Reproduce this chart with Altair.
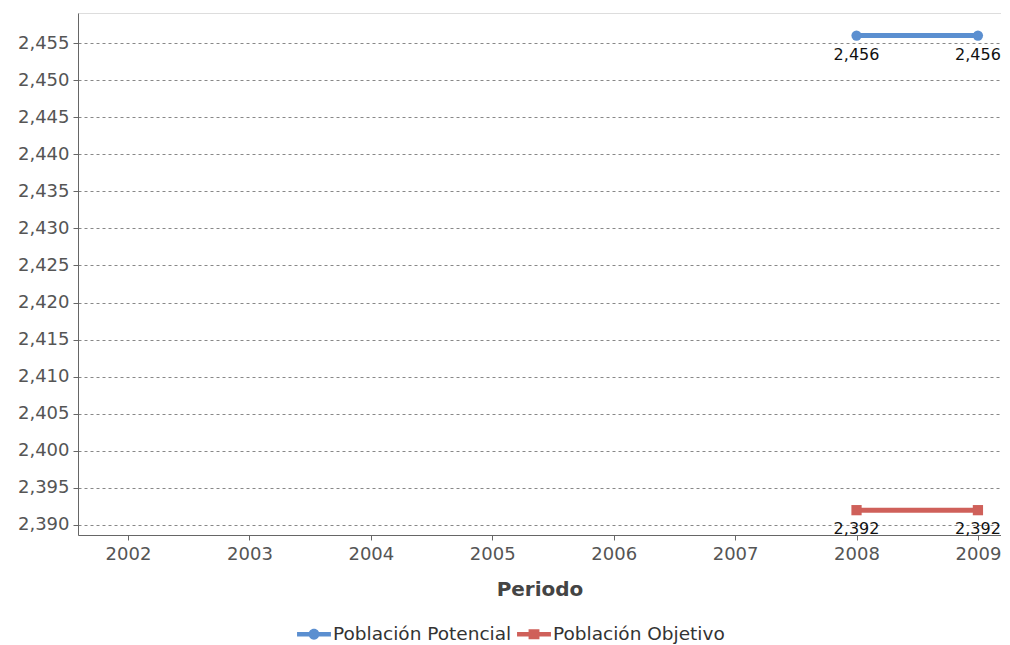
import altair as alt
import pandas as pd

years = [2008, 2009]
potencial = [2456, 2456]
objetivo = [2392, 2392]
series_names = ["Población Potencial", "Población Objetivo"]
colors = ["#5b8fd0", "#cf605a"]
x_ticks = [2002, 2003, 2004, 2005, 2006, 2007, 2008, 2009]
y_ticks = list(range(2390, 2456, 5))

rows = []
for y, v in zip(years, potencial):
    rows.append({"Periodo": y, "valor": v, "serie": series_names[0]})
for y, v in zip(years, objetivo):
    rows.append({"Periodo": y, "valor": v, "serie": series_names[1]})
df = pd.DataFrame(rows)

FONT = "DejaVu Sans"
xscale = alt.Scale(domain=[2001.588, 2009.19], nice=False, zero=False)
yscale = alt.Scale(domain=[2388.65, 2459.05], nice=False, zero=False)
cscale = alt.Scale(domain=series_names, range=colors)

x = alt.X("Periodo:Q", scale=xscale,
          axis=alt.Axis(title="Periodo", values=x_ticks,
                        format="d", grid=False, labelFontSize=18, labelColor="#555",
                        titleFontSize=20, titleFontWeight="bold", titleColor="#444",
                        titlePadding=16, labelPadding=5, tickColor="#666", domainColor="#666",
                        tickSize=5, labelFont=FONT, titleFont=FONT))
y = alt.Y("valor:Q", scale=yscale,
          axis=alt.Axis(title=None, values=y_ticks, format=",d",
                        gridDash=[3, 3], gridColor="#888", gridWidth=1,
                        labelFontSize=18, labelColor="#555", tickColor="#666", tickSize=5,
                        domainColor="#666", labelFont=FONT, labelPadding=4))

circle_path = ("M-1,-0.13H-0.25V0.13H-1Z M0.25,-0.13H1V0.13H0.25Z "
               "M-0.32,0 A0.32,0.32 0 1,1 0.32,0 A0.32,0.32 0 1,1 -0.32,0Z")
square_path = "M-1,-0.13H-0.3V0.13H-1Z M0.3,-0.13H1V0.13H0.3Z M-0.32,-0.3H0.32V0.3H-0.32Z"
shape_expr = "datum.value == '%s' ? '%s' : '%s'" % (series_names[0], circle_path, square_path)

base = alt.Chart(df)
lines = base.mark_line(strokeWidth=5).encode(
    x=x, y=y,
    color=alt.Color("serie:N", scale=cscale,
                    legend=alt.Legend(title=None, orient="none", legendX=219, legendY=604,
                                      direction="horizontal", symbolSize=1150,
                                      symbolType=alt.ExprRef(expr=shape_expr),
                                      symbolFillColor=alt.ExprRef(expr="scale('color', datum.value)"),
                                      symbolStrokeWidth=0, labelLimit=400,
                                      labelFontSize=18.5, labelColor="#333", labelOffset=2,
                                      columnPadding=5, labelFont=FONT)),
    detail="serie:N")
points = base.mark_point(filled=True, size=105, opacity=1).encode(
    x=x, y=y,
    color=alt.Color("serie:N", scale=cscale, legend=None),
    shape=alt.condition("datum.serie == '%s'" % series_names[0], alt.value("circle"), alt.value("square")))
labels = base.mark_text(dy=19, fontSize=16, color="#111", font=FONT, baseline="middle").encode(
    x=x, y=y, text=alt.Text("valor:Q", format=",d"))

chart = alt.layer(lines, points, labels).properties(
    width=923, height=522,
    padding={"left": 9, "top": 5, "right": 0, "bottom": 0}
).configure_view(stroke="#666", strokeWidth=1.2).configure(background="white")

chart.save("out.html", embed_options={"renderer": "svg", "actions": False})
